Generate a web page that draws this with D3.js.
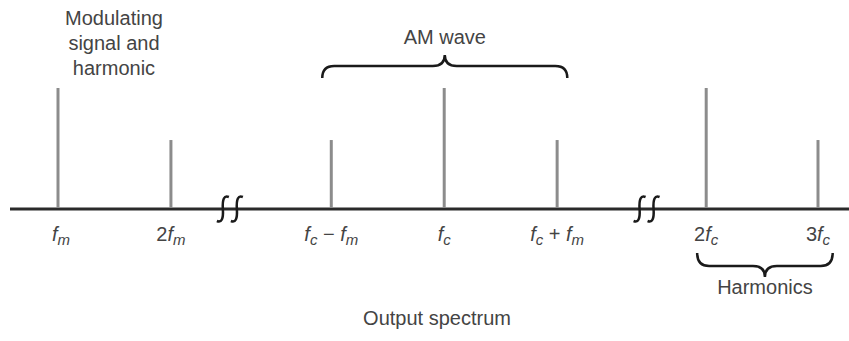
<!DOCTYPE html>
<html><head><meta charset="utf-8">
<script src="https://cdn.jsdelivr.net/npm/d3@7"></script>
<style>html,body{margin:0;padding:0;background:#fff;}svg{display:block;}</style>
</head><body>
<script>
// ---- data ----
// each label: list of [text, role]  role: "n" upright, "i" italic, "s" italic subscript
const labels = [
  [["f","i"],["m","s"]],
  [["2","n"],["f","i"],["m","s"]],
  [["f","i"],["c","s"],[" − ","n"],["f","i"],["m","s"]],
  [["f","i"],["c","s"]],
  [["f","i"],["c","s"],[" + ","n"],["f","i"],["m","s"]],
  [["2","n"],["f","i"],["c","s"]],
  [["3","n"],["f","i"],["c","s"]]
];
const positions = [0, 1, 2.42, 3.42, 4.42, 5.74, 6.73];   // abstract frequency-axis positions
const amplitudes = [1, 0.57, 0.57, 1, 0.57, 1, 0.57];
const breaks = [1.46, 5.15];
const braces = [
  {from: 2.34, to: 4.51, dir: "up", label: "AM wave"},
  {from: 5.66, to: 6.86, dir: "down", label: "Harmonics"}
];
const sideNote = ["Modulating", "signal and", "harmonic"];
const caption = "Output spectrum";

const W = 849, H = 341;
const svg = d3.select("body").append("svg").attr("width", W).attr("height", H);
const x = d3.scaleLinear().domain([0, 6.73]).range([58, 818]);
const y = d3.scaleLinear().domain([0, 1]).range([209, 88]);
const font = "'Liberation Sans', Arial, Helvetica, sans-serif";
const textCol = "#444";

// axis
svg.append("line").attr("x1", 10).attr("x2", W).attr("y1", y(0)).attr("y2", y(0))
  .attr("stroke", "#2a2a2a").attr("stroke-width", 3);

// bars
svg.selectAll("line.bar").data(positions).join("line").attr("class", "bar")
  .attr("x1", d => x(d)).attr("x2", d => x(d))
  .attr("y1", y(0) - 1).attr("y2", (d, i) => y(amplitudes[i]))
  .attr("stroke", "#8c8c8c").attr("stroke-width", 3);

// breaks
breaks.forEach(b => {
  const cx0 = x(b), cy = y(0);
  [cx0, cx0 + 14].forEach(cx => {
    svg.append("path")
      .attr("d", `M${cx+6},${cy-12} Q${cx-1},${cy-15} ${cx},${cy} Q${cx+1},${cy+15} ${cx-6},${cy+12}`)
      .attr("fill", "none").attr("stroke", "#1a1a1a").attr("stroke-width", 2.5);
  });
});

// tick labels
labels.forEach((lab, i) => {
  const t = svg.append("text").attr("x", x(positions[i]) + (i === 0 ? 3 : 0)).attr("y", 241)
    .attr("text-anchor", "middle").attr("font-family", font)
    .attr("fill", textCol).attr("xml:space", "preserve");
  let shifted = false;
  lab.forEach(([s, role]) => {
    const ts = t.append("tspan").text(s);
    if (role === "s") {
      ts.attr("font-size", 15).attr("font-style", "italic").attr("dy", shifted ? 0 : 4);
      shifted = true;
    } else {
      ts.attr("font-size", 20).attr("font-style", role === "i" ? "italic" : "normal").attr("dy", shifted ? -4 : 0);
      shifted = false;
    }
  });
});

// braces
braces.forEach(b => {
  const x0 = x(b.from), x1 = x(b.to), xm = (x0 + x1) / 2;
  let p, ty;
  if (b.dir === "up") {
    const e = 78, h = 66, tip = 55;
    p = `M${x0},${e} Q${x0},${h} ${x0+12},${h} L${xm-12},${h} Q${xm},${h} ${xm},${tip} Q${xm},${h} ${xm+12},${h} L${x1-12},${h} Q${x1},${h} ${x1},${e}`;
    ty = 44;
  } else {
    const e = 253, h = 266, tip = 277;
    p = `M${x0},${e} Q${x0},${h} ${x0+12},${h} L${xm-12},${h} Q${xm},${h} ${xm},${tip} Q${xm},${h} ${xm+12},${h} L${x1-12},${h} Q${x1},${h} ${x1},${e}`;
    ty = 294;
  }
  svg.append("path").attr("d", p).attr("fill", "none").attr("stroke", "#1a1a1a").attr("stroke-width", 2.5);
  svg.append("text").attr("x", xm).attr("y", ty).attr("text-anchor", "middle")
    .attr("font-family", font).attr("font-size", 20).attr("fill", textCol).text(b.label);
});

// side note
svg.selectAll("text.note").data(sideNote).join("text").attr("class", "note")
  .attr("x", 114).attr("y", (d, i) => 25 + i * 25).attr("text-anchor", "middle")
  .attr("font-family", font).attr("font-size", 20).attr("fill", textCol).text(d => d);

// caption
svg.append("text").attr("x", 437).attr("y", 325).attr("text-anchor", "middle")
  .attr("font-family", font).attr("font-size", 20).attr("fill", textCol).text(caption);
</script>
</body></html>
